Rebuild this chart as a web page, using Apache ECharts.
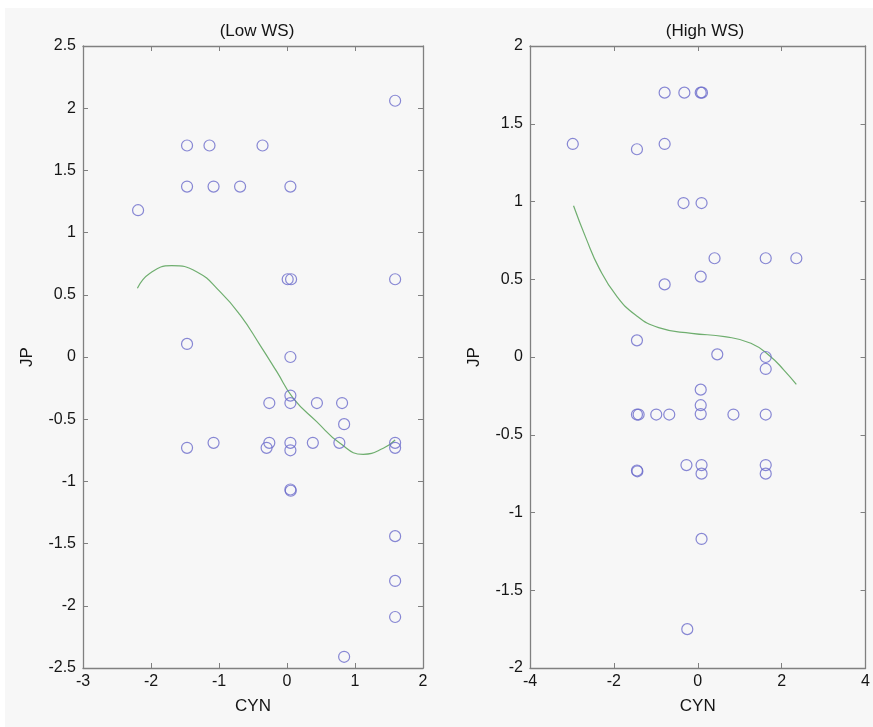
<!DOCTYPE html>
<html>
<head>
<meta charset="utf-8">
<script src="https://cdn.jsdelivr.net/npm/echarts@6/dist/echarts.min.js"></script>
<style>
html,body{margin:0;padding:0;background:#ffffff;}
#c{position:absolute;left:5px;top:8px;width:868px;height:719px;background:#f7f7f7;}
</style>
</head>
<body>
<div id="c"></div>
<script>
// ---- Data ----
const lowTitle = "(Low WS)";
const highTitle = "(High WS)";
const xName = "CYN";
const yName = "JP";

const lowPoints = [
  [1.59, 2.06], [-1.47, 1.70], [-1.14, 1.70], [-0.36, 1.70],
  [-1.47, 1.37], [-1.08, 1.37], [-0.69, 1.37], [0.05, 1.37],
  [-2.19, 1.18],
  [0.01, 0.625], [0.06, 0.625], [1.59, 0.625],
  [-1.47, 0.105], [0.05, 0.0],
  [0.05, -0.31], [-0.26, -0.37], [0.05, -0.37], [0.44, -0.37], [0.81, -0.37],
  [0.84, -0.54],
  [-1.47, -0.73], [-1.08, -0.69], [-0.26, -0.69], [-0.30, -0.73],
  [0.05, -0.69], [0.05, -0.75], [0.38, -0.69], [0.77, -0.69],
  [1.59, -0.69], [1.59, -0.73],
  [0.05, -1.065], [0.055, -1.075],
  [1.59, -1.44], [1.59, -1.80], [1.59, -2.09],
  [0.84, -2.41]
];
const lowFit = [
  [-2.20, 0.552], [-2.015, 0.673], [-1.696, 0.734], [-1.33, 0.686],
  [-0.985, 0.525], [-0.69, 0.338], [-0.397, 0.096], [-0.15, -0.118],
  [0.093, -0.332], [0.436, -0.52], [0.78, -0.694], [1.12, -0.782],
  [1.416, -0.734], [1.59, -0.667]
];

const highPoints = [
  [-2.98, 1.37], [-1.45, 1.336], [-0.79, 1.37],
  [-0.79, 1.70], [-0.32, 1.70], [0.07, 1.70], [0.10, 1.70],
  [-0.34, 0.99], [0.09, 0.99],
  [0.40, 0.635], [1.62, 0.635], [2.35, 0.635],
  [0.07, 0.517], [-0.79, 0.467],
  [-1.45, 0.107], [0.465, 0.017], [1.62, 0.0], [1.62, -0.077],
  [0.07, -0.21], [0.07, -0.31], [0.07, -0.367],
  [-1.45, -0.37], [-1.41, -0.37], [-0.99, -0.37], [-0.68, -0.37],
  [0.85, -0.37], [1.62, -0.37],
  [-1.45, -0.73], [-1.44, -0.735],
  [-0.27, -0.695], [0.09, -0.695], [0.09, -0.75],
  [1.62, -0.695], [1.62, -0.75],
  [0.09, -1.17], [-0.25, -1.75]
];
const highFit = [
  [-2.962, 0.973], [-2.663, 0.763], [-2.349, 0.57], [-1.955, 0.399],
  [-1.483, 0.27], [-0.934, 0.189], [-0.149, 0.152], [0.639, 0.131],
  [1.267, 0.088], [1.738, 0.002], [2.054, -0.084], [2.35, -0.176]
];

const lowX = {min: -3, max: 2, interval: 1};
const lowY = {min: -2.5, max: 2.5, interval: 0.5};
const highX = {min: -4, max: 4, interval: 2};
const highY = {min: -2, max: 2, interval: 0.5};

// ---- Styles ----
const FONT = "Liberation Sans";
const axisGray = "#808080";
const markerColor = "#6a6acb";
const fitColor = "#6fae6f";
const textColor = "#151515";

function xAxes(gi, r) {
  const base = {
    type: 'value', gridIndex: gi, min: r.min, max: r.max, interval: r.interval,
    splitLine: {show: false},
    axisLine: {show: true, onZero: false, lineStyle: {color: axisGray, width: 1.3}},
    axisTick: {show: true, inside: true, length: 5, lineStyle: {color: axisGray}}
  };
  return [
    Object.assign({}, base, {
      position: 'bottom', name: xName, nameLocation: 'middle', nameGap: 30,
      nameTextStyle: {fontFamily: FONT, fontSize: 17, color: textColor},
      axisLabel: {show: true, fontFamily: FONT, fontSize: 16, color: textColor, margin: 6}
    }),
    Object.assign({}, base, {position: 'top', axisLabel: {show: false}})
  ];
}
function yAxes(gi, r) {
  const base = {
    type: 'value', gridIndex: gi, min: r.min, max: r.max, interval: r.interval,
    splitLine: {show: false},
    axisLine: {show: true, onZero: false, lineStyle: {color: axisGray, width: 1.3}},
    axisTick: {show: true, inside: true, length: 5, lineStyle: {color: axisGray}}
  };
  return [
    Object.assign({}, base, {
      position: 'left', name: yName, nameLocation: 'middle', nameGap: 47, nameRotate: 90,
      nameTextStyle: {fontFamily: FONT, fontSize: 17, color: textColor},
      axisLabel: {show: true, fontFamily: FONT, fontSize: 16, color: textColor, margin: 7}
    }),
    Object.assign({}, base, {position: 'right', axisLabel: {show: false}})
  ];
}

const option = {
  backgroundColor: '#f7f7f7',
  animation: false,
  title: [
    {text: lowTitle, left: 247, top: 10, textAlign: 'center',
     textStyle: {fontFamily: FONT, fontSize: 17, fontWeight: 'normal', color: textColor}},
    {text: highTitle, left: 695, top: 10, textAlign: 'center',
     textStyle: {fontFamily: FONT, fontSize: 17, fontWeight: 'normal', color: textColor}}
  ],
  grid: [
    {left: 78, top: 38, width: 340, height: 622, show: true, backgroundColor: '#f7f7f7', borderWidth: 0},
    {left: 525, top: 38, width: 339, height: 622, show: true, backgroundColor: '#f7f7f7', borderWidth: 0}
  ],
  xAxis: [...xAxes(0, lowX), ...xAxes(1, highX)],
  yAxis: [...yAxes(0, lowY), ...yAxes(1, highY)],
  series: [
    {type: 'line', xAxisIndex: 0, yAxisIndex: 0, data: lowFit, smooth: true, showSymbol: false,
     lineStyle: {color: fitColor, width: 1.2}, z: 2},
    {type: 'scatter', xAxisIndex: 0, yAxisIndex: 0, data: lowPoints, symbol: 'circle', symbolSize: 11,
     itemStyle: {color: 'rgba(0,0,0,0)', borderColor: markerColor, borderWidth: 1.2}, z: 3},
    {type: 'line', xAxisIndex: 2, yAxisIndex: 2, data: highFit, smooth: true, showSymbol: false,
     lineStyle: {color: fitColor, width: 1.2}, z: 2},
    {type: 'scatter', xAxisIndex: 2, yAxisIndex: 2, data: highPoints, symbol: 'circle', symbolSize: 11,
     itemStyle: {color: 'rgba(0,0,0,0)', borderColor: markerColor, borderWidth: 1.2}, z: 3}
  ]
};

const chart = echarts.init(document.getElementById('c'), null, {renderer: 'canvas'});
chart.setOption(option);
</script>
</body>
</html>
